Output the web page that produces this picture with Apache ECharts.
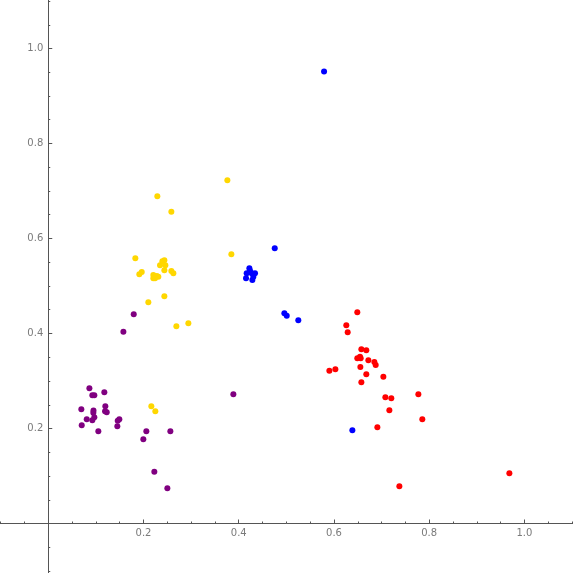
<!DOCTYPE html>
<html>
<head>
<meta charset="utf-8">
<script src="https://cdn.jsdelivr.net/npm/echarts@6/dist/echarts.min.js"></script>
<style>html,body{margin:0;padding:0;background:#fff;}#c{width:573px;height:573px;}</style>
</head>
<body>
<div id="c"></div>
<script>
const tickLabels = ['0.2', '0.4', '0.6', '0.8', '1.0'];

const purplePts = [
  [0.1795,0.4404],[0.1578,0.4038],[0.0864,0.2846],[0.0926,0.2699],[0.0968,0.2699],
  [0.1178,0.2762],[0.0695,0.2404],[0.0947,0.2333],[0.1199,0.2467],[0.1193,0.2362],
  [0.1228,0.2341],[0.0808,0.2193],[0.0968,0.2236],[0.0926,0.2173],[0.0703,0.2067],
  [0.1052,0.1941],[0.1493,0.2193],[0.1459,0.2164],[0.1451,0.2046],[0.2060,0.1941],
  [0.1997,0.1773],[0.2564,0.1941],[0.3887,0.2720],[0.2228,0.1091],[0.2501,0.0741],
  [0.0950,0.2380]
];

const yellowPts = [
  [0.3761,0.7225],[0.2291,0.6888],[0.2585,0.6565],[0.3845,0.5667],[0.1829,0.5583],
  [0.2438,0.5541],[0.2396,0.5520],[0.2459,0.5436],[0.2347,0.5436],[0.2438,0.5331],
  [0.1963,0.5295],[0.1913,0.5246],[0.2585,0.5316],[0.2627,0.5267],[0.2207,0.5232],
  [0.2278,0.5211],[0.2312,0.5196],[0.2207,0.5162],[0.2243,0.5162],[0.2438,0.4783],
  [0.2102,0.4657],[0.2690,0.4152],[0.2942,0.4215],[0.2165,0.2467],[0.2249,0.2362]
];

const bluePts = [
  [0.5792,0.9516],[0.4756,0.5794],[0.4223,0.5373],[0.4167,0.5267],[0.4272,0.5267],
  [0.4342,0.5267],[0.4237,0.5322],[0.4153,0.5162],[0.4286,0.5126],[0.4307,0.5196],
  [0.4958,0.4425],[0.5008,0.4375],[0.5251,0.4278],[0.6386,0.1962]
];

const redPts = [
  [0.6490,0.4446],[0.6259,0.4173],[0.6288,0.4025],[0.6575,0.3667],[0.6679,0.3646],
  [0.6490,0.3478],[0.6547,0.3512],[0.6561,0.3478],[0.6722,0.3436],[0.6848,0.3400],
  [0.6876,0.3337],[0.5903,0.3217],[0.6029,0.3246],[0.6554,0.3295],[0.6679,0.3141],
  [0.7037,0.3091],[0.6575,0.2973],[0.7079,0.2657],[0.7204,0.2636],[0.7772,0.2720],
  [0.7163,0.2383],[0.7855,0.2194],[0.6911,0.2025],[0.9683,0.1057],[0.7373,0.0783]
];

const fmt = v => {
  const s = v.toFixed(1);
  return tickLabels.indexOf(s) >= 0 ? s : '';
};

const axisCommon = {
  type: 'value',
  min: -0.2, max: 1.2, interval: 0.2,
  splitLine: { show: false },
  axisLine: { show: true, onZero: false, lineStyle: { color: '#555', width: 1 } },
  axisTick: { show: true, inside: true, length: 4, lineStyle: { color: '#555' } },
  minorTick: { show: true, splitNumber: 4, length: 2, lineStyle: { color: '#555' } },
  axisLabel: { formatter: fmt, color: '#7a7a7a', fontSize: 10, fontFamily: 'DejaVu Sans', margin: 5, hideOverlap: false }
};

const chart = echarts.init(document.getElementById('c'), null, { renderer: 'canvas' });
const mk = (data, color) => ({
  type: 'scatter', data, symbol: 'circle', symbolSize: 6,
  itemStyle: { color, opacity: 1 }, clip: false
});
chart.setOption({
  animation: false,
  backgroundColor: '#fff',
  grid: { left: -47, right: -46.7, top: -46.5, bottom: -45.5, containLabel: false, outerBoundsMode: 'none' },
  xAxis: Object.assign({}, axisCommon, { position: 'bottom', offset: -95 }),
  yAxis: Object.assign({}, axisCommon, { position: 'left', offset: -95.25 }),
  series: [
    mk(purplePts, '#800080'),
    mk(yellowPts, '#FFD700'),
    mk(bluePts, '#0000FF'),
    mk(redPts, '#FF0000')
  ]
});
</script>
</body>
</html>
